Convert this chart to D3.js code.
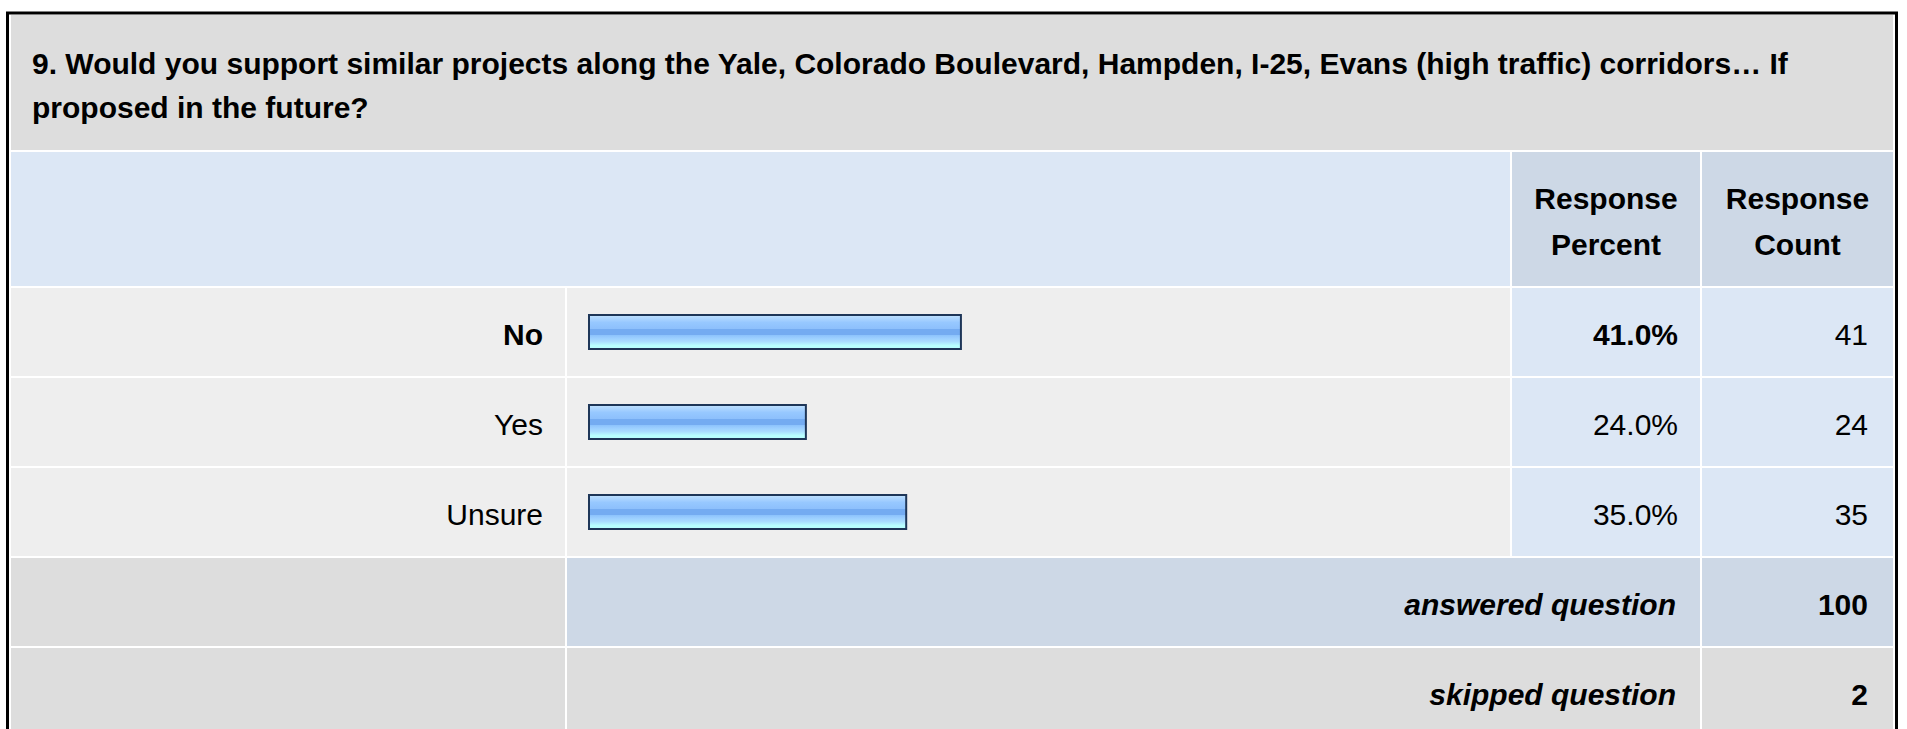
<!DOCTYPE html>
<html lang="en">
<head>
<meta charset="utf-8">
<title>Question 9</title>
<script src="https://cdn.jsdelivr.net/npm/d3@7"></script>
<style>
  body { margin: 0; background: #fff; }
  svg text { font-family: "Liberation Sans", Arial, sans-serif; fill: #000; }
</style>
</head>
<body>
<svg id="chart" width="1907" height="729"></svg>
<script>
// data
const titleLines = ['9. Would you support similar projects along the Yale, Colorado Boulevard, Hampden, I-25, Evans (high traffic) corridors\u2026 If',
                    'proposed in the future?'];
const headerPercent = ['Response', 'Percent'];
const headerCount = ['Response', 'Count'];
const answers = ['No', 'Yes', 'Unsure'];
const percents = [41.0, 24.0, 35.0];
const counts = [41, 24, 35];
const answeredLabel = 'answered question';
const answeredCount = 100;
const skippedLabel = 'skipped question';
const skippedCount = 2;

const svg = d3.select('#chart');

// column edges
const col = {
  label: [11, 565],
  bar: [567, 1510],
  pct: [1512, 1700],
  cnt: [1702, 1893]
};
const rowH = 88;

// bar scale (0-100%)
var x = d3.scaleLinear().domain([0, 100]).range([588, 1500]);
// data rows
var y = d3.scaleBand().domain(answers).range([288, 556]).paddingInner(2 / 90);

// gradient for the bars
const grad = svg.append('defs').append('linearGradient')
  .attr('id', 'barGrad').attr('x1', 0).attr('y1', 0).attr('x2', 0).attr('y2', 1);
[[0, '#d3eaff'], [0.05, '#b6dcff'], [0.14, '#a6d1ff'], [0.22, '#97c8ff'],
 [0.40, '#8dc0fc'], [0.41, '#74abf1'], [0.58, '#74abf1'], [0.59, '#8cc2fc'],
 [0.68, '#9ccfff'], [0.78, '#a9ddff'], [0.86, '#b4f4ff'], [0.89, '#b8ffff'], [1, '#b8ffff']]
  .forEach(s => grad.append('stop').attr('offset', s[0]).attr('stop-color', s[1]));

function cell(x0, x1, y0, h, fill) {
  svg.append('rect').attr('x', x0).attr('y', y0)
    .attr('width', x1 - x0).attr('height', h).attr('fill', fill);
}

// outer frame
svg.append('rect')
  .attr('x', 7.5).attr('y', 13).attr('width', 1889).attr('height', 800)
  .attr('fill', '#fff').attr('stroke', '#000').attr('stroke-width', 3);

// title
cell(11, 1893, 15, 135, '#dddddd');
svg.append('text').attr('font-size', 30).attr('font-weight', 'bold')
  .selectAll('tspan').data(titleLines).enter().append('tspan')
  .attr('x', 32).attr('y', (d, i) => 74 + i * 44).text(d => d);

// header row
cell(col.label[0], col.bar[1], 152, 134, '#dce7f5');
cell(col.pct[0], col.pct[1], 152, 134, '#cdd8e6');
cell(col.cnt[0], col.cnt[1], 152, 134, '#cdd8e6');
[[col.pct, headerPercent], [col.cnt, headerCount]].forEach(h => {
  svg.append('text').attr('font-size', 30).attr('font-weight', 'bold')
    .attr('text-anchor', 'middle')
    .selectAll('tspan').data(h[1]).enter().append('tspan')
    .attr('x', (h[0][0] + h[0][1]) / 2).attr('y', (d, i) => 209 + i * 46).text(d => d);
});

const maxPct = d3.max(percents);
const rows = answers.map((a, i) => ({ answer: a, pct: percents[i], cnt: counts[i] }));

const g = svg.append('g').selectAll('g').data(rows).enter().append('g');
g.each(function (d) {
  const r = d3.select(this);
  const top = y(d.answer);
  [[col.label, '#eeeeee'], [col.bar, '#eeeeee'], [col.pct, '#dce7f5'], [col.cnt, '#dce7f5']]
    .forEach(c => r.append('rect').attr('x', c[0][0]).attr('y', top)
      .attr('width', c[0][1] - c[0][0]).attr('height', y.bandwidth()).attr('fill', c[1]));
  const bold = d.pct === maxPct ? 'bold' : 'normal';
  r.append('text').attr('x', 543).attr('y', top + 57).attr('font-size', 30)
    .attr('font-weight', bold).attr('text-anchor', 'end').text(d.answer);
  const cy = top + y.bandwidth() / 2;
  r.append('rect')
    .attr('x', x(0) + 1).attr('y', cy - 17)
    .attr('width', x(d.pct) - x(0) - 2).attr('height', 34)
    .attr('fill', 'url(#barGrad)').attr('stroke', '#1e3658').attr('stroke-width', 2);
  r.append('text').attr('x', 1678).attr('y', top + 57).attr('font-size', 30)
    .attr('font-weight', bold).attr('text-anchor', 'end').text(d3.format('.1f')(d.pct) + '%');
  r.append('text').attr('x', 1868).attr('y', top + 57).attr('font-size', 30)
    .attr('text-anchor', 'end').text(d.cnt);
});

// summary rows
const summary = [
  { label: answeredLabel, value: answeredCount, top: 558, fill: '#cdd8e6' },
  { label: skippedLabel, value: skippedCount, top: 648, fill: '#dddddd' }
];
summary.forEach(s => {
  cell(col.label[0], col.label[1], s.top, rowH + (s.top > 600 ? 40 : 0), '#dddddd');
  cell(col.bar[0], col.pct[1], s.top, rowH + (s.top > 600 ? 40 : 0), s.fill);
  cell(col.cnt[0], col.cnt[1], s.top, rowH + (s.top > 600 ? 40 : 0), s.fill);
  svg.append('text').attr('x', 1676).attr('y', s.top + 57).attr('font-size', 30)
    .attr('font-weight', 'bold').attr('font-style', 'italic').attr('text-anchor', 'end').text(s.label);
  svg.append('text').attr('x', 1868).attr('y', s.top + 57).attr('font-size', 30)
    .attr('font-weight', 'bold').attr('text-anchor', 'end').text(s.value);
});
</script>
</body>
</html>
